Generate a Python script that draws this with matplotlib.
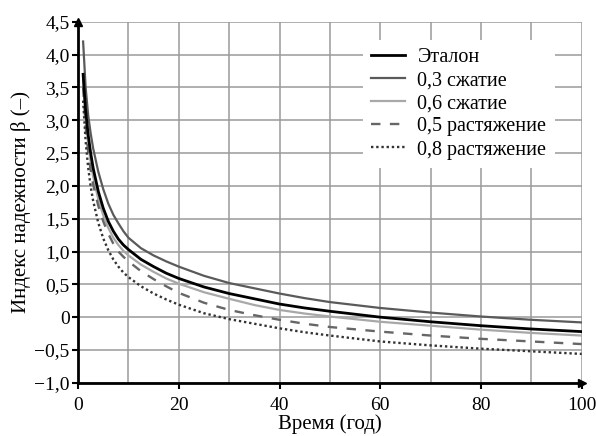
import matplotlib.pyplot as plt
from matplotlib.ticker import FixedLocator

plt.rcParams['font.family'] = ['Liberation Serif', 'DejaVu Serif']

# Time, years
t = [1, 1.5, 2, 2.5, 3, 4, 5, 6, 7, 8, 9, 10, 12.5, 15, 17.5, 20, 25, 30, 35, 40, 45, 50,
     60, 70, 80, 90, 100]

# Reliability index beta for each case
etalon = [3.7, 3.15, 2.78, 2.5, 2.27, 1.92, 1.66, 1.46, 1.31, 1.19, 1.1, 1.03, 0.88, 0.77,
          0.67, 0.59, 0.46, 0.36, 0.28, 0.2, 0.14, 0.09, 0.0, -0.07, -0.13, -0.18, -0.22]
comp03 = [4.2, 3.5, 3.08, 2.8, 2.57, 2.22, 1.95, 1.73, 1.56, 1.43, 1.31, 1.21, 1.05, 0.94,
          0.85, 0.77, 0.63, 0.52, 0.44, 0.36, 0.29, 0.23, 0.14, 0.07, 0.01, -0.04, -0.08]
comp06 = [3.6, 3.02, 2.64, 2.36, 2.14, 1.8, 1.55, 1.36, 1.21, 1.1, 1.01, 0.94, 0.8, 0.69,
          0.59, 0.51, 0.38, 0.28, 0.185, 0.11, 0.055, 0.01, -0.07, -0.13, -0.19, -0.24, -0.28]
tens05 = [3.5, 2.9, 2.52, 2.24, 2.02, 1.7, 1.46, 1.27, 1.12, 1.0, 0.92, 0.85, 0.7, 0.58,
          0.47, 0.37, 0.22, 0.11, 0.03, -0.04, -0.1, -0.15, -0.22, -0.28, -0.33, -0.37, -0.41]
tens08 = [3.3, 2.68, 2.28, 1.99, 1.77, 1.44, 1.2, 1.02, 0.88, 0.77, 0.68, 0.61, 0.47, 0.36,
          0.27, 0.19, 0.06, -0.03, -0.1, -0.17, -0.23, -0.28, -0.37, -0.43, -0.48, -0.52, -0.56]

labels = ['Эталон', '0,3 сжатие', '0,6 сжатие', '0,5 растяжение', '0,8 растяжение']

y_ticks = [-1.0, -0.5, 0, 0.5, 1.0, 1.5, 2.0, 2.5, 3.0, 3.5, 4.0, 4.5]
y_ticklabels = ['\u22121,0', '\u22120,5', '0', '0,5', '1,0', '1,5', '2,0', '2,5', '3,0',
                '3,5', '4,0', '4,5']
x_ticks = [0, 20, 40, 60, 80, 100]

fig = plt.figure(figsize=(5.96, 4.36), dpi=100)
ax = fig.add_axes([0.131, 0.122, 0.845, 0.828])

ax.plot(t, etalon, color='black', lw=2.0, label=labels[0], zorder=5)
ax.plot(t, comp03, color='#5a5a5a', lw=1.6, label=labels[1], zorder=4)
ax.plot(t, comp06, color='#a8a8a8', lw=1.6, label=labels[2], zorder=4)
ax.plot(t, tens05, color='#666666', lw=1.7, ls=(0, (4, 4)), label=labels[3], zorder=4)
ax.plot(t, tens08, color='#333333', lw=1.7, ls=(0, (1, 1.2)), label=labels[4], zorder=4)

ax.set_xlim(0, 100)
ax.set_ylim(-1.0, 4.5)
ax.set_xticks(x_ticks)
ax.xaxis.set_minor_locator(FixedLocator(range(0, 101, 10)))
ax.set_yticks(y_ticks)
ax.set_yticklabels(y_ticklabels)
ax.tick_params(axis='both', which='major', labelsize=14, length=4, width=1.5,
               direction='out', pad=2)
ax.tick_params(axis='x', which='major', pad=6)
ax.tick_params(axis='x', which='minor', length=0)
ax.grid(True, which='both', color='#9a9a9a', lw=1.1)
ax.set_axisbelow(True)

for s in ['top', 'right']:
    ax.spines[s].set_visible(False)
for s in ['left', 'bottom']:
    ax.spines[s].set_linewidth(2)
ax.plot(1, 0, '>k', ms=6, transform=ax.transAxes, clip_on=False)
ax.plot(0, 1, '^k', ms=6, transform=ax.transAxes, clip_on=False)

ax.set_xlabel('Время (год)', fontsize=15, labelpad=0.5)
ax.set_ylabel('Индекс надежности β (–)', fontsize=15, labelpad=2)

leg = ax.legend(loc='upper left', bbox_to_anchor=(0.566, 0.95), frameon=True, fontsize=14.5,
                handlelength=1.7, handletextpad=0.6, labelspacing=0.2, borderaxespad=0)
leg.get_frame().set_facecolor('white')
leg.get_frame().set_edgecolor('none')
leg.get_frame().set_alpha(1)

fig.savefig('out.png', dpi=100)
